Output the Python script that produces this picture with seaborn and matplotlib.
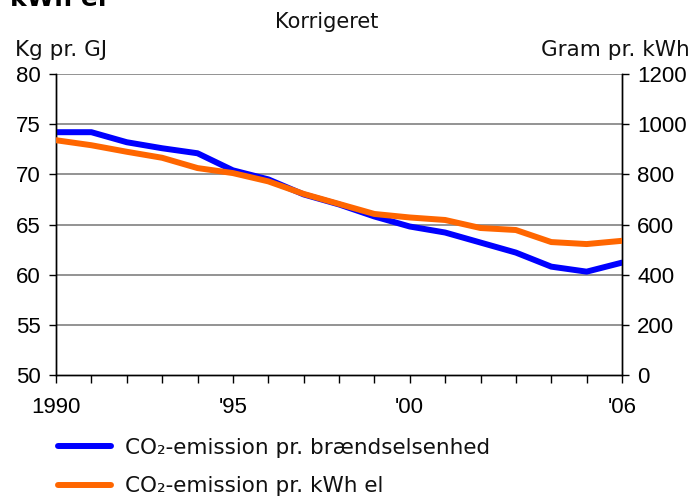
import matplotlib
matplotlib.use("Agg")
import matplotlib.pyplot as plt
from matplotlib.lines import Line2D
from matplotlib.ticker import MultipleLocator, FixedLocator
import seaborn as sns
import pandas as pd

# CO2 emission series, 1990-2006
years = list(range(1990, 2007))
kg_per_gj = [74.2, 74.2, 73.2, 72.6, 72.1, 70.4, 69.5, 68.0, 67.0,
             65.8, 64.8, 64.2, 63.2, 62.2, 60.8, 60.3, 61.2]
gram_per_kwh = [936, 916, 890, 866, 825, 805, 772, 722, 682,
                642, 628, 618, 586, 578, 530, 522, 535]

series_labels = ["CO₂-emission pr. brændselsenhed", "CO₂-emission pr. kWh el"]
x_tick_years = [1990, 1995, 2000, 2006]
x_tick_labels = ["1990", "'95", "'00", "'06"]

df = pd.DataFrame({"year": years, "kg": kg_per_gj, "gram": gram_per_kwh})

sns.set_theme(style="white")
plt.rcParams["font.family"] = ["DejaVu Sans"]

W, H = 694, 498
fig = plt.figure(figsize=(W / 100, H / 100), dpi=100)
ax = fig.add_axes([56 / W, 1 - 375 / H, (622 - 56) / W, (375 - 74) / H])
ax2 = ax.twinx()

blue = "#0000FF"
orange = "#FF6600"
lw = 4.3

sns.lineplot(data=df, x="year", y="kg", ax=ax, color=blue, lw=lw, zorder=3)
sns.lineplot(data=df, x="year", y="gram", ax=ax2, color=orange, lw=lw, zorder=3)

ax.set_xlim(1990, 2006)
ax.set_ylim(50, 80)
ax2.set_ylim(0, 1200)
ax.yaxis.set_major_locator(MultipleLocator(5))
ax2.yaxis.set_major_locator(MultipleLocator(200))
ax.xaxis.set_major_locator(FixedLocator(x_tick_years))
ax.xaxis.set_minor_locator(MultipleLocator(1))
ax.set_xticklabels(x_tick_labels)

ax.set_xlabel("")
ax.set_ylabel("")
ax2.set_ylabel("")

# gray horizontal grid behind the lines
ax.grid(False)
ax2.grid(False)
for v in range(55, 81, 5):
    ax.axhline(v, color="#808080", lw=1.2, zorder=1)

for a in (ax, ax2):
    a.patch.set_alpha(0)
    for side in ("left", "right", "bottom"):
        a.spines[side].set_visible(True)
        a.spines[side].set_color("black")
        a.spines[side].set_linewidth(1.0)
    a.spines["top"].set_visible(False)

tsize = 16
ax.tick_params(axis="y", which="major", direction="out", length=5, width=1,
               color="black", pad=6, left=True, labelsize=tsize, labelcolor="black")
ax2.tick_params(axis="y", which="major", direction="out", length=5, width=1,
                color="black", pad=6, right=True, labelsize=tsize, labelcolor="black")
ax.tick_params(axis="x", which="both", direction="out", length=6, width=1,
               color="black", pad=10, bottom=True, labelsize=tsize, labelcolor="black")
ax.tick_params(axis="x", which="minor", length=6)
for lab in ax.get_xticklabels() + ax.get_yticklabels() + ax2.get_yticklabels():
    lab.set_fontfamily("Liberation Sans")

# header texts
fig.text(10 / W, 1 - 6 / H, "kWh el", fontsize=18, fontweight="bold",
         ha="left", va="baseline", color="black")
fig.text(327 / W, 1 - 28 / H, "Korrigeret", fontsize=15, ha="center",
         va="baseline", color="#111111")
fig.text(15 / W, 1 - 56 / H, "Kg pr. GJ", fontsize=15.5, ha="left",
         va="baseline", color="#111111")
fig.text(690 / W, 1 - 56 / H, "Gram pr. kWh", fontsize=15.5, ha="right",
         va="baseline", color="#111111")

handles = [Line2D([], [], color=blue, lw=4.3), Line2D([], [], color=orange, lw=4.3)]
fig.legend(handles, series_labels, loc="upper left",
           bbox_to_anchor=(58 / W, 1 - 438 / H), frameon=False,
           fontsize=15.5, handlelength=2.45, handletextpad=0.65,
           labelspacing=0.84, borderaxespad=0, borderpad=0,
           labelcolor="#111111")

fig.savefig("out.png", dpi=100)
